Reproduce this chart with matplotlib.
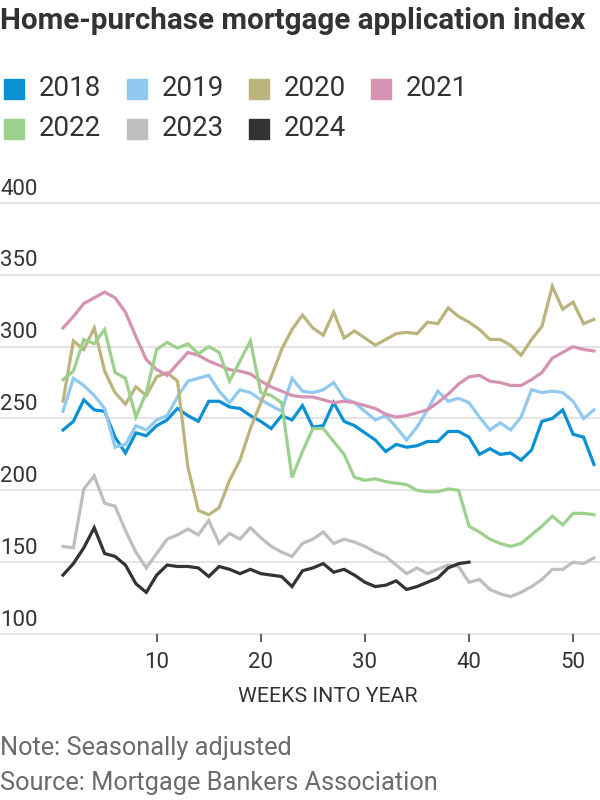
import numpy as np
import matplotlib
matplotlib.use('Agg')
import matplotlib.pyplot as plt
from matplotlib.patches import Rectangle

# weekly index values
weeks = list(range(1, 53))
years = ['2018', '2019', '2020', '2021', '2022', '2023', '2024']
colors = ['#0a91d5', '#92c9ee', '#bbb47c', '#d692b3', '#9bd18d', '#bebebe', '#333333']

y2018 = [242,248,263,256,255,237,226,240,238,245,249,257,252,248,262,262,258,257,252,248,
         243,252,249,259,244,245,261,248,245,240,235,227,232,230,231,234,234,241,241,237,
         225,229,225,226,221,228,248,250,256,239,237,218]
y2019 = [255,278,273,266,257,230,232,245,242,249,252,265,276,278,280,269,261,270,268,263,
         259,255,278,269,268,270,275,264,261,255,249,252,244,235,244,256,269,262,264,261,
         251,242,247,242,251,270,268,269,268,262,250,256]
y2020 = [262,304,298,313,283,268,260,272,266,279,282,276,216,186,183,188,207,221,243,261,
         279,298,312,322,313,308,324,306,311,306,301,305,309,310,309,317,316,327,321,317,
         312,305,305,301,294,305,314,342,326,331,316,319]
y2021 = [313,321,330,334,338,334,324,307,291,284,280,288,296,294,290,287,284,283,281,276,
         272,269,266,265,265,263,261,262,261,259,257,253,251,252,254,256,261,267,274,279,
         280,276,275,273,273,277,282,292,296,300,298,297]
y2022 = [277,283,305,302,312,282,278,251,268,298,303,299,302,295,300,296,276,290,304,268,
         266,261,209,227,243,243,234,225,209,207,208,206,205,204,200,199,199,201,200,175,
         171,166,163,161,163,169,175,182,176,184,184,183]
y2023 = [161,160,201,210,191,189,172,157,146,156,166,169,173,169,179,163,170,166,174,167,
         161,157,154,163,166,171,163,166,164,161,157,154,148,142,146,142,145,148,147,136,
         138,131,128,126,129,133,138,145,145,150,149,153]
y2024 = [141,149,160,174,156,154,148,135,129,141,148,147,147,146,140,147,145,142,145,142,
         141,140,133,144,146,149,143,145,141,136,133,134,137,131,133,136,139,146,149,150]

yticks = [100, 150, 200, 250, 300, 350, 400]
xticks = [10, 20, 30, 40, 50]

plt.rcParams['font.family'] = ['Roboto', 'DejaVu Sans']

fig = plt.figure(figsize=(6, 8), dpi=100)
ax = fig.add_axes([0, 0.2075, 1, 0.54775])

series = [y2018, y2019, y2020, y2021, y2022, y2023, y2024]
order = [1, 2, 3, 4, 5, 0, 6]
for i in order:
    vals = series[i]
    ax.plot(weeks[:len(vals)], vals, color=colors[i], lw=2.3, solid_joinstyle='miter', zorder=3 + i)

ax.set_xlim(-5.05, 52.58)
ax.set_ylim(100, 405)

for v in yticks:
    ax.axhline(v, color='#dddddd', lw=1.1, zorder=1, clip_on=False)
    ax.annotate(str(v), xy=(0, v), xycoords=('axes fraction', 'data'),
                xytext=(0, 2.5), textcoords='offset points', ha='left', va='bottom',
                fontsize=16, color='#333333')

for s in ax.spines.values():
    s.set_visible(False)
ax.set_yticks([])
ax.set_xticks(xticks)
ax.set_xticklabels([str(t) for t in xticks], fontsize=16, color='#333333')
ax.tick_params(axis='x', direction='out', length=5.8, width=1.1, color='#333333', pad=7)

fig.text(328 / 600, 1 - 697 / 800, 'WEEKS INTO YEAR', ha='center', va='center',
         fontsize=15.3, color='#333333')

fig.text(0.0, 1 - 21 / 800, 'Home-purchase mortgage application index', ha='left', va='center',
         fontsize=21.3, fontweight='bold', color='#333333')

# legend, two rows of four
cols_x = [4, 127, 249, 371]
rows_y = [79, 119]
for i, yr in enumerate(years):
    cx = cols_x[i % 4]
    ry = rows_y[i // 4]
    fig.add_artist(Rectangle((cx / 600, 1 - (ry + 20) / 800), 20 / 600, 20 / 800,
                             transform=fig.transFigure, color=colors[i]))
    fig.text((cx + 35) / 600, 1 - (ry + 10) / 800, yr, ha='left', va='center',
             fontsize=20, color='#333333')

fig.text(0.0, 1 - 748 / 800, 'Note: Seasonally adjusted', ha='left', va='center',
         fontsize=18.3, color='#6b6b6b')
fig.text(0.0, 1 - 783 / 800, 'Source: Mortgage Bankers Association', ha='left', va='center',
         fontsize=18.3, color='#6b6b6b')

fig.savefig('out.png', dpi=100)
